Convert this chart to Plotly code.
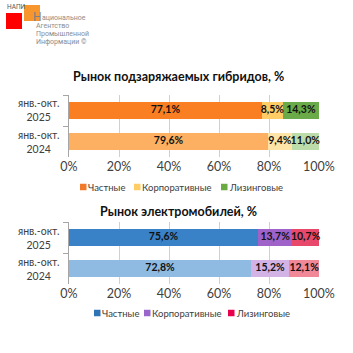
import plotly.graph_objects as go

# ---- data ----
periods = ["янв.-окт.<br>2025", "янв.-окт.<br>2024"]
series_names = ["Частные", "Корпоративные", "Лизинговые"]
hybrid_private = [77.1, 79.6]
hybrid_corporate = [8.5, 9.4]
hybrid_leasing = [14.3, 11.0]
ev_private = [75.6, 72.8]
ev_corporate = [13.7, 15.2]
ev_leasing = [10.7, 12.1]
x_ticks = [0, 20, 40, 60, 80, 100]
hybrid_title = "Рынок подзаряжаемых гибридов, %"
ev_title = "Рынок электромобилей, %"
logo_lines = ["ациональное", "Агентство", "Промышленной", "Информации ©"]

hybrid_colors = [["#FA7F22", "#FDB062"], ["#FFCC66", "#FFE4A8"], ["#6AAA48", "#BCDCAA"]]
ev_colors = [["#3A82C8", "#8FBBE2"], ["#9E62C9", "#D3B3E6"], ["#E8486A", "#F08898"]]
hybrid_legend_colors = ["#F07A2A", "#FFCC66", "#6AAA40"]
ev_legend_colors = ["#2F75B5", "#9966CC", "#E8004C"]

W = H = 353
FONT = "Lato"

def py(px):
    return 1 - px / H

def px_x(px):
    return px / W

fig = go.Figure()

def fmt(v):
    return f"{v:.1f}".replace(".", ",") + "%"

def add_chart(values, colors, xa, ya):
    base = [0.0] * len(periods)
    for name, vals, cols in zip(series_names, values, colors):
        fig.add_trace(go.Bar(
            y=periods, x=vals, orientation="h", name=name,
            marker=dict(color=cols, line=dict(width=0)),
            width=0.53, xaxis=xa, yaxis=ya, showlegend=False,
            hoverinfo="skip",
        ))
        mids = [b + v / 2 for b, v in zip(base, vals)]
        fig.add_trace(go.Scatter(
            x=mids, y=periods, mode="text", text=[fmt(v) for v in vals],
            textposition="middle center",
            textfont=dict(family=FONT, size=10.5, color="#111111", weight="bold"),
            xaxis=xa, yaxis=ya, showlegend=False, hoverinfo="skip", cliponaxis=False,
        ))
        base = [b + v for b, v in zip(base, vals)]

add_chart([hybrid_private, hybrid_corporate, hybrid_leasing], hybrid_colors, "x", "y")
add_chart([ev_private, ev_corporate, ev_leasing], ev_colors, "x2", "y2")

xdom = [px_x(69), px_x(319)]
xaxis_common = dict(
    range=[0, 100], tickvals=x_ticks, ticktext=[f"{t}%" for t in x_ticks],
    showgrid=True, gridcolor="#D0D0D0", gridwidth=1, zeroline=False,
    showline=False, ticks="", tickfont=dict(family=FONT, size=12.5, color="#404040"),
    fixedrange=True, automargin=False,
)
yaxis_common = dict(
    autorange="reversed", showline=True, linecolor="#A6A6A6", linewidth=1,
    ticks="outside", ticklen=5, tickcolor="#A6A6A6", tickson="boundaries",
    showticklabels=False, showgrid=False, fixedrange=True, automargin=False,
)

annotations = []
shapes = []

# y category labels (centered two-line)
for yref in ["y", "y2"]:
    for p in periods:
        annotations.append(dict(text=p, x=px_x(38), y=p, xref="paper", yref=yref,
                                showarrow=False, xanchor="center", yanchor="middle", align="center",
                                font=dict(family=FONT, size=10.5, color="#404040")))

# titles
annotations.append(dict(text=hybrid_title, x=px_x(179), y=py(77), xref="paper", yref="paper",
                        showarrow=False, xanchor="center", yanchor="middle",
                        font=dict(family=FONT, size=12.5, color="#111111", weight="bold")))
annotations.append(dict(text=ev_title, x=px_x(178), y=py(211), xref="paper", yref="paper",
                        showarrow=False, xanchor="center", yanchor="middle",
                        font=dict(family=FONT, size=12.5, color="#111111", weight="bold")))

# manual legends
def add_legend(colors, sq_x, txt_x, y):
    for name, c, sx, tx in zip(series_names, colors, sq_x, txt_x):
        shapes.append(dict(type="rect", xref="paper", yref="paper",
                           x0=px_x(sx), x1=px_x(sx + 6.5), y0=py(y + 3.25), y1=py(y - 3.25),
                           fillcolor=c, line=dict(width=0)))
        annotations.append(dict(text=name, x=px_x(tx), y=py(y), xref="paper", yref="paper",
                                showarrow=False, xanchor="left", yanchor="middle",
                                font=dict(family=FONT, size=9.5, color="#404040")))

add_legend(hybrid_legend_colors, [80, 134, 221], [86, 140, 227], 187)
add_legend(ev_legend_colors, [94, 144, 228], [100, 150, 234], 313)

# logo
shapes.append(dict(type="rect", xref="paper", yref="paper", x0=px_x(6), x1=px_x(22), y0=py(29), y1=py(13),
                   fillcolor="#FF0000", line=dict(width=0), layer="below"))
shapes.append(dict(type="rect", xref="paper", yref="paper", x0=px_x(24), x1=px_x(40), y0=py(21), y1=py(5),
                   fillcolor="#F7962D", line=dict(width=0), layer="below"))
annotations.append(dict(text="НАПИ", x=px_x(5), y=py(7), xref="paper", yref="paper", showarrow=False,
                        xanchor="left", yanchor="middle", font=dict(family="Roboto", size=6.5, color="#555555")))
annotations.append(dict(text="Н", x=px_x(31), y=py(17), xref="paper", yref="paper", showarrow=False,
                        xanchor="left", yanchor="middle", font=dict(family="Roboto", size=12, color="#7F7F7F")))
for i, line in enumerate(logo_lines):
    annotations.append(dict(text=line, x=px_x(40 if i == 0 else 34), y=py(18 + 8 * i), xref="paper", yref="paper",
                            showarrow=False, xanchor="left", yanchor="middle",
                            font=dict(family="Roboto", size=7, color="#8C8C8C")))

fig.update_layout(
    width=W, height=H, margin=dict(l=0, r=0, t=0, b=0, autoexpand=False),
    paper_bgcolor="white", plot_bgcolor="white",
    barmode="stack", bargap=0.47,
    showlegend=False,
    xaxis=dict(domain=xdom, anchor="y", **xaxis_common),
    yaxis=dict(domain=[py(157), py(95)], anchor="x", **yaxis_common),
    xaxis2=dict(domain=xdom, anchor="y2", **xaxis_common),
    yaxis2=dict(domain=[py(284), py(222)], anchor="x2", **yaxis_common),
    annotations=annotations,
    shapes=shapes,
)

fig.write_html("out.html")
